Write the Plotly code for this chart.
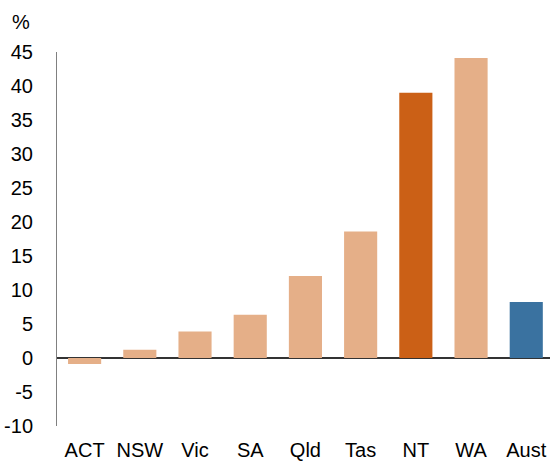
import plotly.graph_objects as go

categories = ["ACT", "NSW", "Vic", "SA", "Qld", "Tas", "NT", "WA", "Aust"]
values = [-0.9, 1.2, 3.9, 6.35, 12.05, 18.6, 39.0, 44.1, 8.25]
bar_colors = ["#E5AF88", "#E5AF88", "#E5AF88", "#E5AF88", "#E5AF88",
              "#E5AF88", "#CB6016", "#E5AF88", "#3A72A0"]
y_ticks = [-10, -5, 0, 5, 10, 15, 20, 25, 30, 35, 40, 45]
y_tick_labels = ["-10", "-5", "0", "5", "10", "15", "20", "25", "30", "35", "40", "45"]

font = "Liberation Sans, Arial, sans-serif"

fig = go.Figure(go.Bar(
    x=categories, y=values,
    marker=dict(color=bar_colors, line=dict(width=0)),
))

fig.update_layout(
    width=550, height=461,
    margin=dict(l=57, r=0, t=52, b=35),
    paper_bgcolor="white", plot_bgcolor="white",
    bargap=0.4,
    showlegend=False,
    font=dict(family=font, size=20, color="#000000"),
    annotations=[dict(text="%", x=0, y=1, xref="paper", yref="paper",
                      xshift=-47, yshift=17, showarrow=False,
                      xanchor="left", yanchor="bottom",
                      font=dict(family=font, size=20, color="#000"))],
)
fig.update_xaxes(
    range=[-0.5, 8.43], showgrid=False, showline=False, zeroline=False,
    ticks="", tickfont=dict(size=20), ticklabelstandoff=10, automargin=False,
)
fig.update_yaxes(
    range=[-10, 45], tickvals=y_ticks, ticktext=y_tick_labels, showgrid=False,
    showline=True, linecolor="#808080", linewidth=1,
    zeroline=True, zerolinecolor="#333333", zerolinewidth=1.5,
    ticks="", tickfont=dict(size=20), ticklabelstandoff=19,
    layer="above traces", automargin=False,
)

fig.write_html("out.html", config={"displayModeBar": False},
               post_script="document.body.style.margin='0';")
